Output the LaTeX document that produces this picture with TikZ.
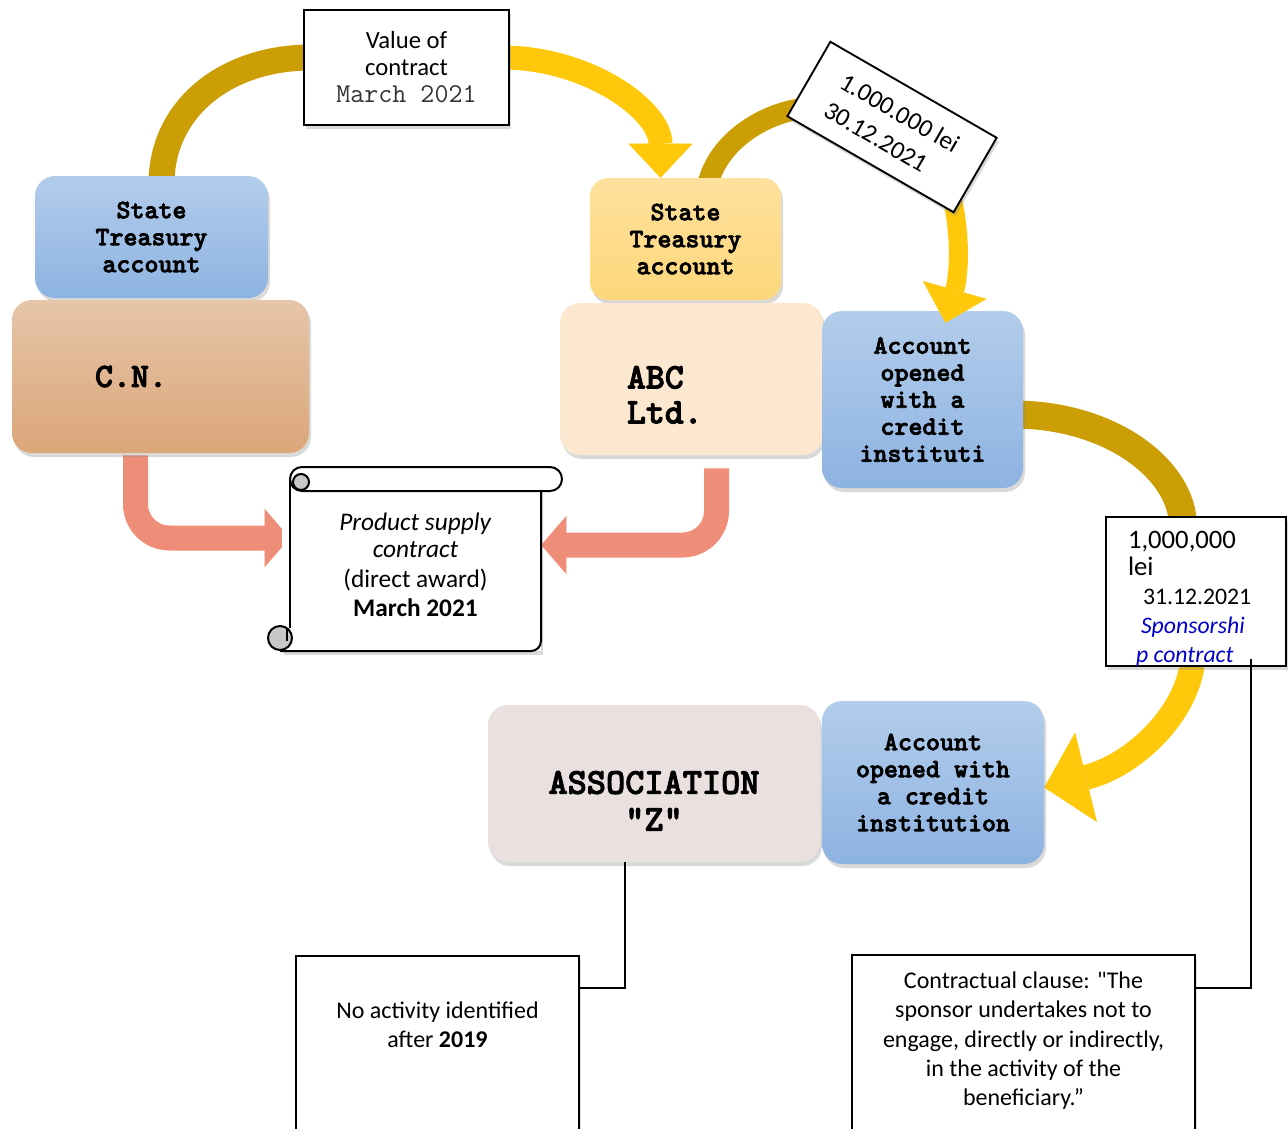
\documentclass[tikz,border=0pt]{standalone}
\usepackage{fontspec}
\setmainfont{Carlito}[Ligatures=TeXOff]
\newfontfamily\monob{lmmonolt10-bold.otf}[FakeBold=2.5]
\newcommand\monof{\ttfamily}
\usetikzlibrary{arrows.meta,shadows,calc}
\newdimen\upx \upx=0.75pt
\definecolor{bluT}{HTML}{B3CDEB}
\definecolor{bluB}{HTML}{8DB3E2}
\definecolor{cnT}{HTML}{E6C5A9}
\definecolor{cnB}{HTML}{DBA679}
\definecolor{ylT}{HTML}{FFE19D}
\definecolor{ylB}{HTML}{FCD77B}
\definecolor{abcF}{HTML}{FCE7D0}
\definecolor{asF}{HTML}{E9E0DF}
\definecolor{goldD}{HTML}{CC9E05}
\definecolor{goldB}{HTML}{FFC80B}
\definecolor{salm}{HTML}{EF8E78}
\definecolor{spblue}{HTML}{0000CC}
\definecolor{curl}{HTML}{C8C8C8}
\pgfdeclarelayer{bg}\pgfdeclarelayer{fg}\pgfdeclarelayer{top}
\pgfsetlayers{bg,main,fg,top}
\tikzset{
  sh/.style={drop shadow={opacity=0.3,shadow xshift=1.5pt,shadow yshift=-3pt}},
  rbox/.style={rounded corners=20\upx, sh, inner sep=0pt, align=center},
  bluebox/.style={rbox, top color=bluT, bottom color=bluB},
  mono/.style={font=\monob\fontsize{20}{20.25}\selectfont},
  bigmono/.style={font=\monob\fontsize{27}{27}\selectfont},
  tail/.style={draw=goldD, line width=24\upx},
  head/.style={draw=goldB, line width=24\upx, -{Triangle[length=25.5pt,width=48pt,line width=0.1pt]}},
  salarrow/.style={draw=salm, line width=25\upx, rounded corners=34\upx, -{Triangle[length=18.75pt,width=43.5pt,line width=0.1pt]}},
  plainbox/.style={draw, line width=1.6pt, fill=white, sh, inner sep=0pt},
  conn/.style={line width=1.5pt},
  scl/.style={line width=1.5pt},
}
\begin{document}
\begin{tikzpicture}[x=0.75pt,y=0.75pt]
\useasboundingbox (0,0) rectangle (1288,-1128);
% ---------- boxes ----------
\node[bluebox, mono, minimum width=233\upx, minimum height=122\upx] (tsl) at (151.5,-237) {State\\Treasury\\account};
\node[rbox, top color=cnT, bottom color=cnB, minimum width=297\upx, minimum height=153\upx, text width=131\upx, align=left, font=\monob\fontsize{25.7}{27}\selectfont] (cn) at (160.5,-376.5) {C.N.};
\node[rbox, rounded corners=18\upx, top color=ylT, bottom color=ylB, mono, minimum width=191\upx, minimum height=122\upx] (tsr) at (685.5,-239) {State\\Treasury\\account};
\node[rbox, fill=abcF, bigmono] (abc) at (691.5,-379) {\parbox[c][152\upx][t]{263\upx}{\raggedright\fontsize{27}{26.25}\selectfont\vspace*{63\upx}\hspace*{67\upx}ABC\\\hspace*{67\upx}Ltd.}};
\node[bluebox, mono, minimum width=201\upx, minimum height=177\upx] (acc1) at (922.5,-399.5) {Account\\opened\\with a\\credit\\instituti};
\node[rbox, fill=asF, bigmono] (assoc) at (654,-783.5) {\parbox[c][157\upx][t]{332\upx}{\centering\fontsize{27.4}{27.75}\selectfont\vspace*{66\upx}ASSOCIATION\\"Z"}};
\node[bluebox, mono, minimum width=222\upx, minimum height=163\upx] (acc2) at (933,-782.5) {Account\\opened with\\a credit\\institution};
\node[plainbox, line width=1.8pt, minimum width=205\upx, minimum height=115\upx, align=center, font=\fontsize{18.5}{20.25}\selectfont] (val) at (406.5,-67.5) {Value of\\contract\\{\monof\fontsize{20.4}{20.25}\selectfont\color{black!80}March 2021}};
\node[plainbox, line width=1.2pt] (spons) at (1196,-591.5) {\parbox[c][149\upx][t]{180\upx}{\raggedright\vspace*{14\upx}%
{\fontsize{20}{20.25}\selectfont\hspace*{22\upx}1,000,000\\\hspace*{22\upx}lei\par}%
{\fontsize{17.8}{21.75}\selectfont\hspace*{37\upx}31.12.2021\\\hspace*{35\upx}\textit{\color{spblue}Sponsorshi}\\\hspace*{30\upx}\textit{\color{spblue}p contract}\par}}};
\node[plainbox, line width=1.4pt, anchor=north] (noact) at (437.5,-955) {\parbox[c][185\upx][t]{283\upx}{\centering\fontsize{18}{21.75}\selectfont\vspace*{46\upx}No activity identified\\after \textbf{2019}}};
\node[plainbox, line width=1.4pt, anchor=north] (clause) at (1023.5,-954) {\parbox[c][186\upx][t]{343\upx}{\centering\fontsize{18}{21.9}\selectfont\vspace*{17\upx}Contractual clause: "The\\sponsor undertakes not to\\engage, directly or indirectly,\\in the activity of the\\beneficiary.”}};
% ---------- scroll ----------
\path[fill=white, sh] (282,-479) rectangle (541,-651);
\draw[scl] (290,-480) -- (290,-628);
\draw[scl, rounded corners=10\upx] (280,-651) -- (541,-651) -- (541,-488);
\draw[scl, fill=curl] (280,-638) circle[radius=12\upx];
\draw[scl] (287,-629) -- (287,-641);
\draw[scl, fill=white, rounded corners=12\upx] (290,-467) rectangle (562,-491);
\draw[scl, fill=curl] (301,-482) circle[radius=8\upx];
\node[font=\fontsize{19}{20.25}\selectfont, align=center, minimum width=251\upx, minimum height=172\upx, inner sep=0pt] (scr) at (415.5,-565) {\textit{Product supply}\\\textit{contract}\\[3\upx](direct award)\\[2\upx]\textbf{March 2021}};
% ---------- rotated label ----------
\begin{pgfonlayer}{top}
\node[plainbox, line width=1.4pt, rotate=-30, minimum width=192\upx, minimum height=86\upx, align=left, font=\fontsize{19}{24.5}\selectfont] (rot) at (892,-127) {1.000.000 lei\\30.12.2021};
\end{pgfonlayer}
% ---------- curved arrows ----------
\begin{pgfonlayer}{bg}
\draw[tail, line width=26\upx] ([xshift=10\upx,yshift=-8\upx]tsl.north) .. controls +(0,75) and +(-85,0) .. ([xshift=8\upx,yshift=10\upx]val.west);
\draw[head] ([xshift=-8\upx,yshift=10\upx]val.east) .. controls +(85,0) and +(0,68) .. ([xshift=-25\upx]tsr.north);
\draw[tail, line width=21\upx] ([xshift=22\upx,yshift=-8\upx]tsr.north) .. controls +(10,45) and +(-45,-3) .. ([xshift=25\upx,yshift=9\upx]rot.south west);
\draw[tail, line width=28\upx] ([xshift=-10\upx,yshift=-15\upx]acc1.east) .. controls +(98,0) and +(0,56) .. ([xshift=-13\upx,yshift=-10\upx]spons.north);
\draw[head, line width=25\upx, -{Triangle[length=32.25pt,width=69pt,line width=0.1pt]}] ([xshift=-3\upx,yshift=10\upx]spons.south) .. controls +(-3,-55) and +(90,22) .. ([yshift=-5\upx]acc2.east);
\draw[salarrow] ([xshift=-25\upx,yshift=-2\upx]cn.south) |- ([yshift=27\upx]scr.west);
\draw[salarrow] ([xshift=25\upx,yshift=-13\upx]abc.south) |- ([yshift=20\upx]scr.east);
\end{pgfonlayer}
\begin{pgfonlayer}{fg}
\draw[head, line width=19\upx, -{Triangle[length=25.5pt,width=49.5pt,line width=0.1pt]}] ([xshift=-3\upx,yshift=20\upx]rot.south east) .. controls +(10,-40) and +(14,50) .. ([xshift=23\upx,yshift=-12\upx]acc1.north);
\end{pgfonlayer}
% ---------- connectors ----------
\draw[conn] ([xshift=-29\upx]assoc.south) |- ([yshift=-33\upx]noact.north east);
\draw[conn] ([xshift=55\upx,yshift=8\upx]spons.south) |- ([yshift=-34\upx]clause.north east);
\end{tikzpicture}
\end{document}
